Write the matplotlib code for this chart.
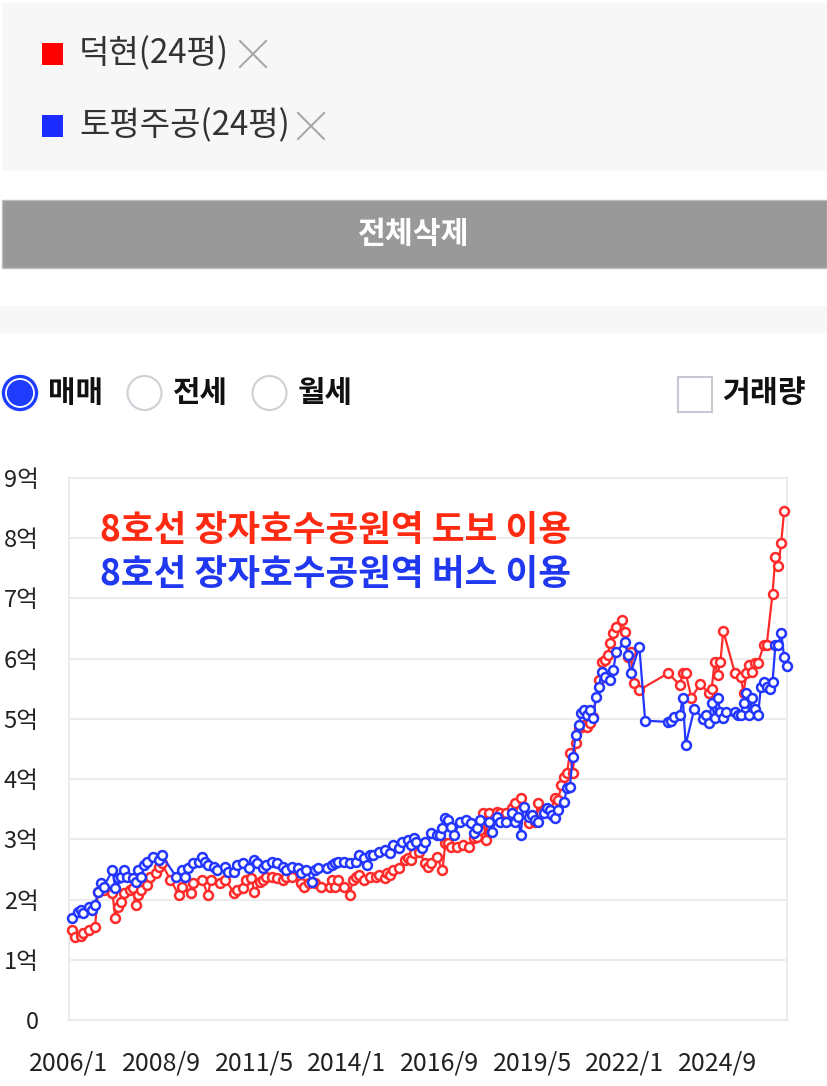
import matplotlib
matplotlib.use("Agg")
import matplotlib.pyplot as plt
from matplotlib.patches import Rectangle, Circle

plt.rcParams['font.family'] = ['Noto Sans CJK KR', 'DejaVu Sans']

# months counted from 2006/1, values in 억
red_m = [1, 2, 4, 5, 7, 9, 10, 12, 15, 16, 17, 18, 19, 21, 22, 23, 24, 25, 27, 28,
         30, 31, 32, 35, 38, 39, 42, 43, 46, 48, 49, 52, 54, 57, 58, 60, 61, 63, 64, 66,
         67, 68, 70, 72, 74, 75, 77, 80, 81, 83, 85, 87, 90, 91, 92, 93, 95, 97, 98, 99,
         100, 102, 104, 106, 107, 109, 110, 111, 112, 114, 116, 117, 118, 119, 121, 123, 124, 125, 127, 129,
         130, 131, 132, 134, 136, 138, 140, 141, 142, 143, 144, 145, 147, 148, 149, 151, 153, 154, 156, 159,
         161, 162, 163, 166, 168, 169, 170, 171, 172, 173, 174, 175, 176, 177, 178, 179, 180, 181, 183, 184,
         185, 186, 187, 188, 189, 191, 192, 193, 194, 195, 197, 207, 211, 212, 213, 215, 218, 221, 222, 223,
         224, 225, 226, 230, 232, 233, 234, 235, 236, 237, 238, 240, 241, 243, 244, 245, 246, 247]
red_v = [1.50, 1.38, 1.40, 1.44, 1.50, 1.55, 2.13, 2.16, 2.11, 1.69, 1.88, 1.96, 2.11, 2.16, 2.19, 1.91, 2.07, 2.16, 2.24, 2.38,
         2.44, 2.54, 2.60, 2.33, 2.07, 2.21, 2.11, 2.27, 2.33, 2.07, 2.33, 2.27, 2.33, 2.11, 2.16, 2.19, 2.33, 2.36, 2.13, 2.29,
         2.33, 2.38, 2.38, 2.36, 2.33, 2.38, 2.38, 2.27, 2.21, 2.27, 2.27, 2.21, 2.21, 2.33, 2.21, 2.33, 2.21, 2.07, 2.33, 2.38,
         2.41, 2.33, 2.38, 2.38, 2.41, 2.36, 2.44, 2.41, 2.49, 2.52, 2.66, 2.69, 2.66, 2.77, 2.79, 2.60, 2.54, 2.60, 2.71, 2.49,
         2.94, 2.94, 2.87, 2.87, 2.91, 2.87, 3.02, 3.04, 3.16, 3.44, 2.99, 3.44, 3.36, 3.46, 3.44, 3.44, 3.52, 3.60, 3.69, 3.27,
         3.29, 3.60, 3.44, 3.44, 3.69, 3.65, 3.90, 4.04, 4.10, 4.43, 4.10, 4.60, 4.85, 4.87, 4.90, 4.87, 4.93, 5.03, 5.65, 5.95,
         5.98, 6.06, 6.26, 6.43, 6.53, 6.64, 6.45, 6.03, 6.11, 5.60, 5.48, 5.76, 5.56, 5.76, 5.76, 5.35, 5.58, 5.43, 5.50, 5.95,
         5.73, 5.95, 6.46, 5.76, 5.70, 5.43, 5.76, 5.90, 5.78, 5.93, 5.93, 6.23, 6.23, 7.08, 7.69, 7.54, 7.92, 8.46]

blue_m = [1, 3, 4, 5, 7, 8, 9, 10, 11, 12, 15, 16, 17, 18, 19, 20, 22, 23, 24, 25,
          26, 27, 29, 31, 32, 37, 39, 40, 41, 43, 45, 46, 47, 48, 50, 51, 54, 55, 57, 58,
          60, 62, 64, 65, 67, 68, 70, 72, 74, 75, 77, 79, 80, 82, 84, 85, 86, 89, 91, 92,
          93, 95, 97, 99, 100, 102, 103, 104, 105, 107, 109, 111, 112, 114, 115, 117, 118, 119, 120, 122,
          123, 125, 127, 128, 129, 130, 131, 132, 133, 135, 137, 139, 140, 141, 142, 145, 146, 148, 149, 151,
          153, 154, 155, 156, 157, 159, 160, 161, 162, 164, 165, 166, 167, 168, 169, 171, 172, 173, 174, 175,
          176, 177, 178, 179, 180, 181, 182, 183, 184, 185, 187, 188, 189, 192, 193, 194, 197, 199, 207, 208,
          209, 211, 212, 213, 216, 219, 220, 221, 222, 223, 224, 225, 226, 227, 230, 231, 232, 233, 234, 235,
          236, 237, 238, 239, 240, 241, 242, 243, 244, 245, 246, 247, 248]
blue_v = [1.69, 1.80, 1.83, 1.78, 1.88, 1.83, 1.91, 2.13, 2.27, 2.21, 2.49, 2.19, 2.36, 2.38, 2.49, 2.38, 2.36, 2.29, 2.49, 2.38,
          2.57, 2.62, 2.71, 2.66, 2.74, 2.38, 2.49, 2.38, 2.52, 2.60, 2.62, 2.71, 2.62, 2.57, 2.54, 2.49, 2.54, 2.46, 2.46, 2.57,
          2.60, 2.52, 2.66, 2.60, 2.52, 2.57, 2.62, 2.60, 2.54, 2.49, 2.54, 2.52, 2.44, 2.49, 2.29, 2.49, 2.52, 2.52, 2.57, 2.60,
          2.62, 2.62, 2.60, 2.62, 2.74, 2.69, 2.57, 2.74, 2.74, 2.79, 2.82, 2.77, 2.91, 2.86, 2.96, 2.99, 2.91, 3.02, 2.96, 2.86,
          2.96, 3.10, 3.07, 3.07, 3.19, 3.36, 3.32, 3.21, 3.07, 3.29, 3.32, 3.27, 3.11, 3.19, 3.32, 3.29, 3.12, 3.37, 3.29, 3.29,
          3.44, 3.29, 3.37, 3.07, 3.54, 3.37, 3.41, 3.32, 3.29, 3.44, 3.52, 3.49, 3.41, 3.36, 3.49, 3.62, 3.85, 3.87, 4.37, 4.73,
          4.90, 5.10, 5.15, 5.07, 5.15, 5.02, 5.37, 5.53, 5.78, 5.70, 5.65, 5.81, 6.11, 6.28, 6.06, 5.76, 6.20, 4.97, 4.95, 4.97,
          5.03, 5.07, 5.35, 4.57, 5.17, 5.00, 5.07, 4.93, 5.27, 5.02, 5.35, 5.12, 5.02, 5.12, 5.12, 5.07, 5.07, 5.27, 5.43, 5.07,
          5.35, 5.17, 5.07, 5.53, 5.61, 5.53, 5.50, 5.61, 6.23, 6.23, 6.43, 6.03, 5.88]

tick_m = [0, 32, 64, 96, 128, 160, 192, 224]
tick_labels = ['2006/1', '2008/9', '2011/5', '2014/1', '2016/9', '2019/5', '2022/1', '2024/9']
y_ticks = list(range(10))
y_labels = ['0'] + [f'{i}억' for i in range(1, 10)]

legend_names = ['덕현(24평)', '토평주공(24평)']
note_lines = ['8호선 장자호수공원역 도보 이용', '8호선 장자호수공원역 버스 이용']
radio_names = ['매매', '전세', '월세']

RED = '#ff2b2b'
BLUE = '#2336ff'
W, H = 827, 1086

fig = plt.figure(figsize=(W / 100, H / 100), dpi=100)

# chart
ax = fig.add_axes([69 / W, 1 - 1020 / H, (787 - 69) / W, (1020 - 478) / H])
ax.plot(red_m, red_v, color=RED, lw=1.6, marker='o', ms=6.4, mfc='white', mew=1.8, clip_on=False, zorder=3)
ax.plot(blue_m, blue_v, color=BLUE, lw=1.6, marker='o', ms=6.4, mfc='white', mew=1.8, clip_on=False, zorder=4)
ax.set_xlim(0, 248)
ax.set_ylim(0, 9)
ax.set_yticks(y_ticks)
ax.set_yticklabels(y_labels)
ax.set_xticks(tick_m)
ax.set_xticklabels(tick_labels)
ax.tick_params(axis='y', length=0, pad=22, labelsize=17, labelcolor='#222222')
ax.tick_params(axis='x', length=0, pad=22, labelsize=18, labelcolor='#222222')
ax.grid(axis='y', color='#ececec', lw=1.5)
ax.set_axisbelow(True)
for s in ax.spines.values():
    s.set_color('#ececec')
    s.set_linewidth(1.5)

# page elements above the chart, pixel coordinates
ui = fig.add_axes([0, 0, 1, 1], zorder=5)
ui.set_xlim(0, W)
ui.set_ylim(H, 0)
ui.axis('off')
ui.patch.set_alpha(0)

ui.add_patch(Rectangle((2, 3), 825, 168, fc='#f7f7f7', ec='none'))
for i, (name, col) in enumerate(zip(legend_names, ['#ff0000', '#1a2cff'])):
    yc = 54 + i * 72
    ui.add_patch(Rectangle((42, yc - 11), 21, 22, fc=col, ec='none'))
    ui.text(79, yc, name, fontsize=23.8, color='#333333', va='center', ha='left')
    xe = 240 + i * 58
    ui.plot([xe, xe + 26], [yc - 13, yc + 13], color='#a8a8a8', lw=1.5)
    ui.plot([xe, xe + 26], [yc + 13, yc - 13], color='#a8a8a8', lw=1.5)

ui.add_patch(Rectangle((2, 200), 825, 68, fc='#999999', ec='#bdbdbd', lw=1))
ui.text(414, 234, '전체삭제', fontsize=21.8, fontweight='bold', color='white', ha='center', va='center')
ui.add_patch(Rectangle((0, 306), 827, 27, fc='#f7f7f7', ec='none'))

radio_x = [20, 144.5, 269.5]
for i, (name, cx) in enumerate(zip(radio_names, radio_x)):
    if i == 0:
        ui.add_patch(Circle((cx, 393), 17.5, fc='#1f3cff', ec='#1f3cff', lw=1))
        ui.add_patch(Circle((cx, 393), 14, fc='none', ec='white', lw=1.3))
    else:
        ui.add_patch(Circle((cx, 393), 17, fc='white', ec='#cfcfd6', lw=1.5))
    ui.text(cx + 28, 393, name, fontsize=21.5, fontweight='bold', color='#111111', ha='left', va='center')

ui.add_patch(Rectangle((678, 377), 34, 35, fc='white', ec='#c8c8d2', lw=1.5))
ui.text(722, 393, '거래량', fontsize=21.8, fontweight='bold', color='#111111', ha='left', va='center')

ui.text(100, 530, note_lines[0], fontsize=25.6, fontweight='bold', color='#ff2a12', ha='left', va='center')
ui.text(100, 574, note_lines[1], fontsize=25.6, fontweight='bold', color='#1f38f0', ha='left', va='center')

fig.savefig('out.png', dpi=100)
